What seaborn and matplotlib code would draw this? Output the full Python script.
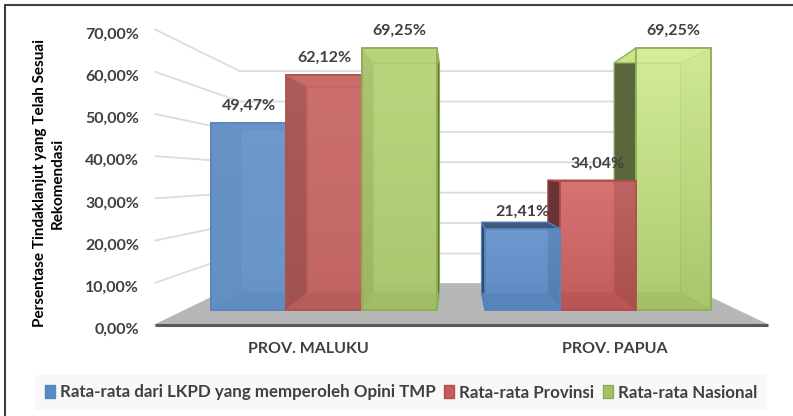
import matplotlib
matplotlib.use("Agg")
import matplotlib.pyplot as plt
import numpy as np
import pandas as pd
import seaborn as sns
from matplotlib.lines import Line2D
from matplotlib.patches import Patch
from matplotlib.transforms import ScaledTranslation

provinces = ["PROV. MALUKU", "PROV. PAPUA"]
series = ["Rata-rata dari LKPD yang memperoleh Opini TMP", "Rata-rata Provinsi", "Rata-rata Nasional"]
maluku = [49.47, 62.12, 69.25]
papua = [21.41, 34.04, 69.25]
y_ticks = [0, 10, 20, 30, 40, 50, 60, 70]
ytitle = "Persentase Tindaklanjut yang Telah Sesuai\nRekomendasi"

W, H = 793, 416
TXT = "#404040"

# colours per series, maluku then papua: top of the bar, bottom of the bar
grad_maluku = [((108, 150, 203), (100, 145, 198)), ((205, 110, 108), (190, 95, 92)), ((188, 216, 125), (165, 195, 105))]
grad_papua = [((108, 152, 208), (88, 135, 192)), ((218, 115, 115), (190, 85, 85)), ((218, 242, 158), (165, 195, 100))]
edges = ["#5585bf", "#ad5050", "#8fae58"]
legend_cols = ["#5a8ac6", "#c85a58", "#a3c264"]
# how dark the left side, right side and top are
shade_maluku = [(0.95, 0.5, 1.0), (0.45, 0.5, 1.0), (0.75, 0.45, 1.0)]
shade_papua = [(0.5, 0.7, 0.62), (0.52, 0.6, 0.55), (0.47, 0.95, 1.05)]


def px_axes(fig, left, right, top, bottom):
    return fig.add_axes([left / W, 1 - bottom / H, (right - left) / W, (bottom - top) / H])


def back(x, y, vp, f):
    return x + (vp[0] - x) * f, y + (vp[1] - y) * f


sns.set_theme(style="white")
plt.rcParams["font.family"] = ["Lato", "DejaVu Sans"]
plt.rcParams["font.weight"] = "bold"

fig = plt.figure(figsize=(W / 100, H / 100), dpi=100)

# wall and floor, front plane of the chart
ax = px_axes(fig, 155, 768, 29.5, 325)
ax.set_xlim(-0.5, 1.5)
ax.set_ylim(0, 70)
ax.set_xticks(range(len(provinces)))
ax.set_xticklabels(provinces, fontsize=11.5, color=TXT, fontweight="bold")
ax.set_yticks(y_ticks)
ax.set_yticklabels([f"{v:.2f}".replace(".", ",") + "%" for v in y_ticks], fontsize=11.5, color=TXT, fontweight="bold")
ax.tick_params(axis="y", length=0, pad=11.5)
ax.tick_params(axis="x", length=0, pad=12)
for lab in ax.get_yticklabels():
    lab.set_transform(lab.get_transform() + ScaledTranslation(0, -2.5 / 72, fig.dpi_scale_trans))
sns.despine(ax=ax, left=True, bottom=True)
ax.patch.set_alpha(0)

vp_wall = ax.transData.inverted().transform((458, H - 178))
fw = 0.28
x0, x1 = -0.5, 1.5
bl = back(x0, 0, vp_wall, fw)
br = back(x1, 0, vp_wall, fw)
ax.fill([x0, x1, br[0], bl[0]], [0, 0, br[1], bl[1]], color="#b7b7b7", zorder=1, clip_on=False)
ax.plot([x0, x1], [0, 0], color="#595959", lw=2.2, zorder=2, clip_on=False, solid_capstyle="butt")
for v in y_ticks[1:]:
    a = back(x0, v, vp_wall, fw)
    b = back(x1, v, vp_wall, fw)
    ax.plot([x0, a[0], b[0]], [v, a[1], b[1]], color="#dcdcdc", lw=1.3, zorder=0.5, clip_on=False)
ax.set_ylabel(ytitle, fontsize=11, color="black", fontweight="bold", linespacing=1.3)
ax.yaxis.set_label_coords(-0.148, (325 - 183) / 295.5)

# bars live in their own plane, a bit behind the front of the floor
bx = px_axes(fig, 187, 735, 45.4, 310)
df = pd.DataFrame({
    "prov": provinces * 3,
    "seri": [s for s in series for _ in provinces],
    "val": [v for pair in zip(maluku, papua) for v in pair],
})
sns.barplot(data=df, x="prov", y="val", hue="seri", hue_order=series, ax=bx, width=0.825, gap=0, legend=False)
bx.set_xlim(-0.5, 1.5)
bx.set_ylim(0, 70)
bx.axis("off")

vp = bx.transData.inverted().transform((456, H - 171))
fb = 0.12
bars = list(bx.patches)
for i, p in enumerate(bars):
    s_i, g_i = i // 2, i % 2
    grad = (grad_maluku if g_i == 0 else grad_papua)[s_i]
    shades = (shade_maluku if g_i == 0 else shade_papua)[s_i]
    c_top, c_bot = np.array(grad[0]) / 255, np.array(grad[1]) / 255
    base = (c_top + c_bot) / 2
    x_l, x_r, h = p.get_x(), p.get_x() + p.get_width(), p.get_height()
    # bars further from the vanishing point go first
    z = 5 + 10 * (s_i if g_i == 0 else 2 - s_i)

    bl_, br_ = back(x_l, 0, vp, fb), back(x_r, 0, vp, fb)
    tl_, tr_ = back(x_l, h, vp, fb), back(x_r, h, vp, fb)
    kw = dict(clip_on=False, lw=0.8, edgecolor=edges[s_i])

    bx.fill([bl_[0], br_[0], tr_[0], tl_[0]], [bl_[1], br_[1], tr_[1], tl_[1]], facecolor=base, alpha=0.9, zorder=z, **kw)
    bx.fill([x_l, bl_[0], tl_[0], x_l], [0, bl_[1], tl_[1], h], facecolor=np.clip(base * shades[0], 0, 1), zorder=z + 1, **kw)
    bx.fill([x_r, br_[0], tr_[0], x_r], [0, br_[1], tr_[1], h], facecolor=np.clip(base * shades[1], 0, 1), zorder=z + 1, **kw)
    bx.fill([x_l, x_r, br_[0], bl_[0]], [0, 0, br_[1], bl_[1]], facecolor=base * 0.85, zorder=z + 1, **kw)
    bx.fill([x_l, x_r, tr_[0], tl_[0]], [h, h, tr_[1], tl_[1]], facecolor=np.clip(base * shades[2], 0, 1), zorder=z + 1, **kw)

    ramp = np.linspace(c_top, c_bot, 64).reshape(64, 1, 3)
    bx.imshow(ramp, extent=(x_l, x_r, 0, h), aspect="auto", alpha=0.72, zorder=z + 2, interpolation="bilinear")
    p.set_facecolor("none")
    p.set_edgecolor(edges[s_i])
    p.set_linewidth(1.3)
    p.set_zorder(z + 3)
    p.set_clip_on(False)

    val = f"{h:.2f}".replace(".", ",") + "%"
    bx.annotate(val, ((x_l + x_r) / 2, h), xytext=(0, 12.6), textcoords="offset points",
                ha="center", va="center", fontsize=11.5, color=TXT, fontweight="bold", zorder=60)
bx.set_xlim(-0.5, 1.5)
bx.set_ylim(0, 70)

handles = [Patch(facecolor=c, edgecolor=e, lw=1) for c, e in zip(legend_cols, edges)]
fig.legend(handles, series, loc="center", bbox_to_anchor=(401 / W, 1 - 392.5 / H), ncol=3,
           frameon=True, facecolor="#f8f8f8", edgecolor="none", fancybox=False, framealpha=1,
           fontsize=12.2, labelcolor=TXT, handlelength=0.6, handleheight=0.75, handletextpad=0.3,
           columnspacing=0.5, borderpad=0.55, borderaxespad=0)

# the picture frame is only visible on the left and at the top
fig.add_artist(Line2D([4.5 / W, 4.5 / W], [0, 1 - 5 / H], color="#404040", lw=1.5))
fig.add_artist(Line2D([4.5 / W, 1], [1 - 5 / H, 1 - 5 / H], color="#404040", lw=1.5))

fig.savefig("out.png", dpi=100)
